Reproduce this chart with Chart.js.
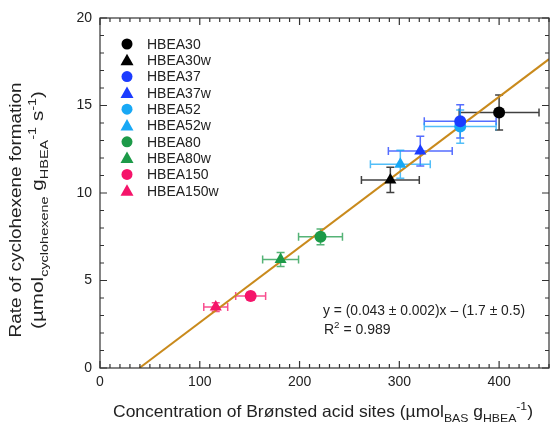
<!DOCTYPE html>
<html>
<head>
<meta charset="utf-8">
<script src="https://cdn.jsdelivr.net/npm/chart.js@4"></script>
<style>
  html, body { margin: 0; padding: 0; background: #fff; }
  #wrap { width: 551px; height: 425px; }
</style>
</head>
<body>
<div id="wrap"><canvas id="chart" width="551" height="425"></canvas></div>
<script>
// ===== DATA =====
const samples = ["HBEA30", "HBEA30w", "HBEA37", "HBEA37w", "HBEA52", "HBEA52w", "HBEA80", "HBEA80w", "HBEA150", "HBEA150w"];
const basConc = [400, 291, 361, 321, 361, 301, 221, 181, 151, 116];
const basErr = [40, 29, 36, 32, 36, 30, 22, 18, 15, 12];
const rate = [14.6, 10.75, 14.1, 12.4, 13.8, 11.65, 7.5, 6.2, 4.12, 3.48];
const rateErr = [1.0, 0.72, 0.95, 0.85, 0.95, 0.8, 0.45, 0.4, 0.2, 0.25];
const markers = ["circle", "triangle", "circle", "triangle", "circle", "triangle", "circle", "triangle", "circle", "triangle"];
const colors = ["#000000", "#000000", "#1c3cff", "#1c3cff", "#18a8f5", "#18a8f5", "#1c9a48", "#1c9a48", "#f5146a", "#f5146a"];
const fitSlope = 0.043;
const fitIntercept = -1.7;
const xTicks = [0, 100, 200, 300, 400];
const yTicks = [0, 5, 10, 15, 20];

const FONT = "Arial, 'Liberation Sans', sans-serif";
const TEXT = "#222";

// ===== DATASETS =====
const datasets = samples.map((name, i) => ({
  label: name,
  data: [{ x: basConc[i], y: rate[i] }],
  pointStyle: markers[i],
  pointRadius: markers[i] === "circle" ? 6 : 7,
  backgroundColor: colors[i],
  borderColor: colors[i],
  borderWidth: 0,
  order: 1
}));

const xMax = 450;
datasets.push({
  label: "fit",
  type: "line",
  data: [
    { x: -fitIntercept / fitSlope, y: 0 },
    { x: xMax, y: fitSlope * xMax + fitIntercept }
  ],
  borderColor: "#c98a1c",
  borderWidth: 2,
  pointRadius: 0,
  order: 2
});

// ===== HELPERS =====
// parts: [text, mode] with mode "n", "sub", "sup"; fitWidth stretches the run to a given width
function drawRich(ctx, parts, x, y, size, align, fitWidth) {
  const small = size * 0.7;
  let total = 0;
  parts.forEach(([t, m]) => {
    ctx.font = (m === "n" ? size : small) + "px " + FONT;
    total += ctx.measureText(t).width;
  });
  const sx = fitWidth ? fitWidth / total : 1;
  ctx.save();
  ctx.translate(align === "center" ? x - total * sx / 2 : x, y);
  ctx.scale(sx, 1);
  let cx = 0;
  ctx.textAlign = "left";
  ctx.textBaseline = "alphabetic";
  parts.forEach(([t, m]) => {
    ctx.font = (m === "n" ? size : small) + "px " + FONT;
    let dy = 0;
    if (m === "sub") dy = size * 0.3;
    if (m === "sup") dy = -size * 0.45;
    ctx.fillText(t, cx, dy);
    cx += ctx.measureText(t).width;
  });
  ctx.restore();
}

// ===== PLUGIN: error bars, ticks, legend, titles =====
const decor = {
  id: "decor",
  beforeDatasetsDraw(chart) {
    const ctx = chart.ctx;
    const xs = chart.scales.x, ys = chart.scales.y;
    ctx.save();
    ctx.lineWidth = 1.5;
    samples.forEach((n, i) => {
      const px = xs.getPixelForValue(basConc[i]);
      const py = ys.getPixelForValue(rate[i]);
      const x0 = xs.getPixelForValue(basConc[i] - basErr[i]);
      const x1 = xs.getPixelForValue(basConc[i] + basErr[i]);
      const y0 = ys.getPixelForValue(rate[i] - rateErr[i]);
      const y1 = ys.getPixelForValue(rate[i] + rateErr[i]);
      ctx.strokeStyle = colors[i];
      ctx.globalAlpha = 0.75;
      ctx.beginPath();
      ctx.moveTo(x0, py); ctx.lineTo(x1, py);
      ctx.moveTo(x0, py - 4); ctx.lineTo(x0, py + 4);
      ctx.moveTo(x1, py - 4); ctx.lineTo(x1, py + 4);
      ctx.moveTo(px, y0); ctx.lineTo(px, y1);
      ctx.moveTo(px - 4, y0); ctx.lineTo(px + 4, y0);
      ctx.moveTo(px - 4, y1); ctx.lineTo(px + 4, y1);
      ctx.stroke();
    });
    ctx.restore();
  },
  afterDraw(chart) {
    const ctx = chart.ctx;
    const a = chart.chartArea;
    const xs = chart.scales.x, ys = chart.scales.y;
    ctx.save();
    // frame
    ctx.strokeStyle = "#333";
    ctx.lineWidth = 1.2;
    ctx.strokeRect(a.left, a.top, a.right - a.left, a.bottom - a.top);
    // inward ticks on all four sides
    ctx.beginPath();
    for (let v = 0; v <= xMax; v += 10) {
      const p = xs.getPixelForValue(v);
      const len = v % 100 === 0 ? 7 : 4;
      ctx.moveTo(p, a.bottom); ctx.lineTo(p, a.bottom - len);
      ctx.moveTo(p, a.top); ctx.lineTo(p, a.top + len);
    }
    for (let v = 0; v <= 20; v += 1) {
      const p = ys.getPixelForValue(v);
      const len = v % 5 === 0 ? 7 : 4;
      ctx.moveTo(a.left, p); ctx.lineTo(a.left + len, p);
      ctx.moveTo(a.right, p); ctx.lineTo(a.right - len, p);
    }
    ctx.stroke();

    // legend
    samples.forEach((n, i) => {
      const ly = 44 + i * 16.3;
      const lx = 127;
      ctx.fillStyle = colors[i];
      ctx.beginPath();
      if (markers[i] === "circle") {
        ctx.arc(lx, ly, 5.5, 0, Math.PI * 2);
      } else {
        ctx.moveTo(lx, ly - 6.5);
        ctx.lineTo(lx + 6.5, ly + 5);
        ctx.lineTo(lx - 6.5, ly + 5);
        ctx.closePath();
      }
      ctx.fill();
      ctx.fillStyle = TEXT;
      ctx.font = "14px " + FONT;
      ctx.textAlign = "left";
      ctx.textBaseline = "middle";
      ctx.fillText(n, 147, ly + 1);
    });

    // fit equation
    ctx.fillStyle = TEXT;
    drawRich(ctx, [["y = (0.043 \u00b1 0.002)x \u2013 (1.7 \u00b1 0.5)", "n"]], 323, 315, 14, "left", 202);
    drawRich(ctx, [["R", "n"], ["2", "sup"], [" = 0.989", "n"]], 324, 334, 14, "left");

    // x axis title
    drawRich(ctx, [
      ["Concentration of Br\u00f8nsted acid sites (\u00b5mol", "n"],
      ["BAS", "sub"], [" g", "n"], ["HBEA", "sub"], ["-1", "sup"], [")", "n"]
    ], 323, 417, 16.5, "center", 420);

    // y axis title
    ctx.save();
    ctx.translate(21, 210);
    ctx.rotate(-Math.PI / 2);
    drawRich(ctx, [["Rate of cyclohexene formation", "n"]], 0, 0, 16.5, "center", 255);
    drawRich(ctx, [
      ["(\u00b5mol", "n"], ["cyclohexene", "sub"], [" g", "n"], ["HBEA", "sub"],
      ["-1", "sup"], [" s", "n"], ["-1", "sup"], [")", "n"]
    ], 0, 22, 16.5, "center", 238);
    ctx.restore();
    ctx.restore();
  }
};

// ===== CHART =====
new Chart(document.getElementById("chart"), {
  type: "scatter",
  data: { datasets },
  options: {
    responsive: false,
    animation: false,
    layout: { autoPadding: false, padding: { top: 18, right: 2, left: 0, bottom: 0 } },
    plugins: { legend: { display: false }, tooltip: { enabled: false } },
    scales: {
      x: {
        type: "linear",
        min: 0,
        max: xMax,
        afterBuildTicks: s => { s.ticks = xTicks.map(v => ({ value: v })); },
        afterFit: s => { s.height = 57; s.paddingLeft = 0; s.paddingRight = 0; },
        grid: { display: false, drawTicks: false },
        border: { display: false },
        ticks: { color: TEXT, font: { family: FONT, size: 14 }, padding: 6, maxRotation: 0 }
      },
      y: {
        type: "linear",
        min: 0,
        max: 20,
        afterBuildTicks: s => { s.ticks = yTicks.map(v => ({ value: v })); },
        afterFit: s => { s.width = 100; s.paddingTop = 0; s.paddingBottom = 0; },
        grid: { display: false, drawTicks: false },
        border: { display: false },
        ticks: { color: TEXT, font: { family: FONT, size: 14 }, padding: 8 }
      }
    }
  },
  plugins: [decor]
});
</script>
</body>
</html>
